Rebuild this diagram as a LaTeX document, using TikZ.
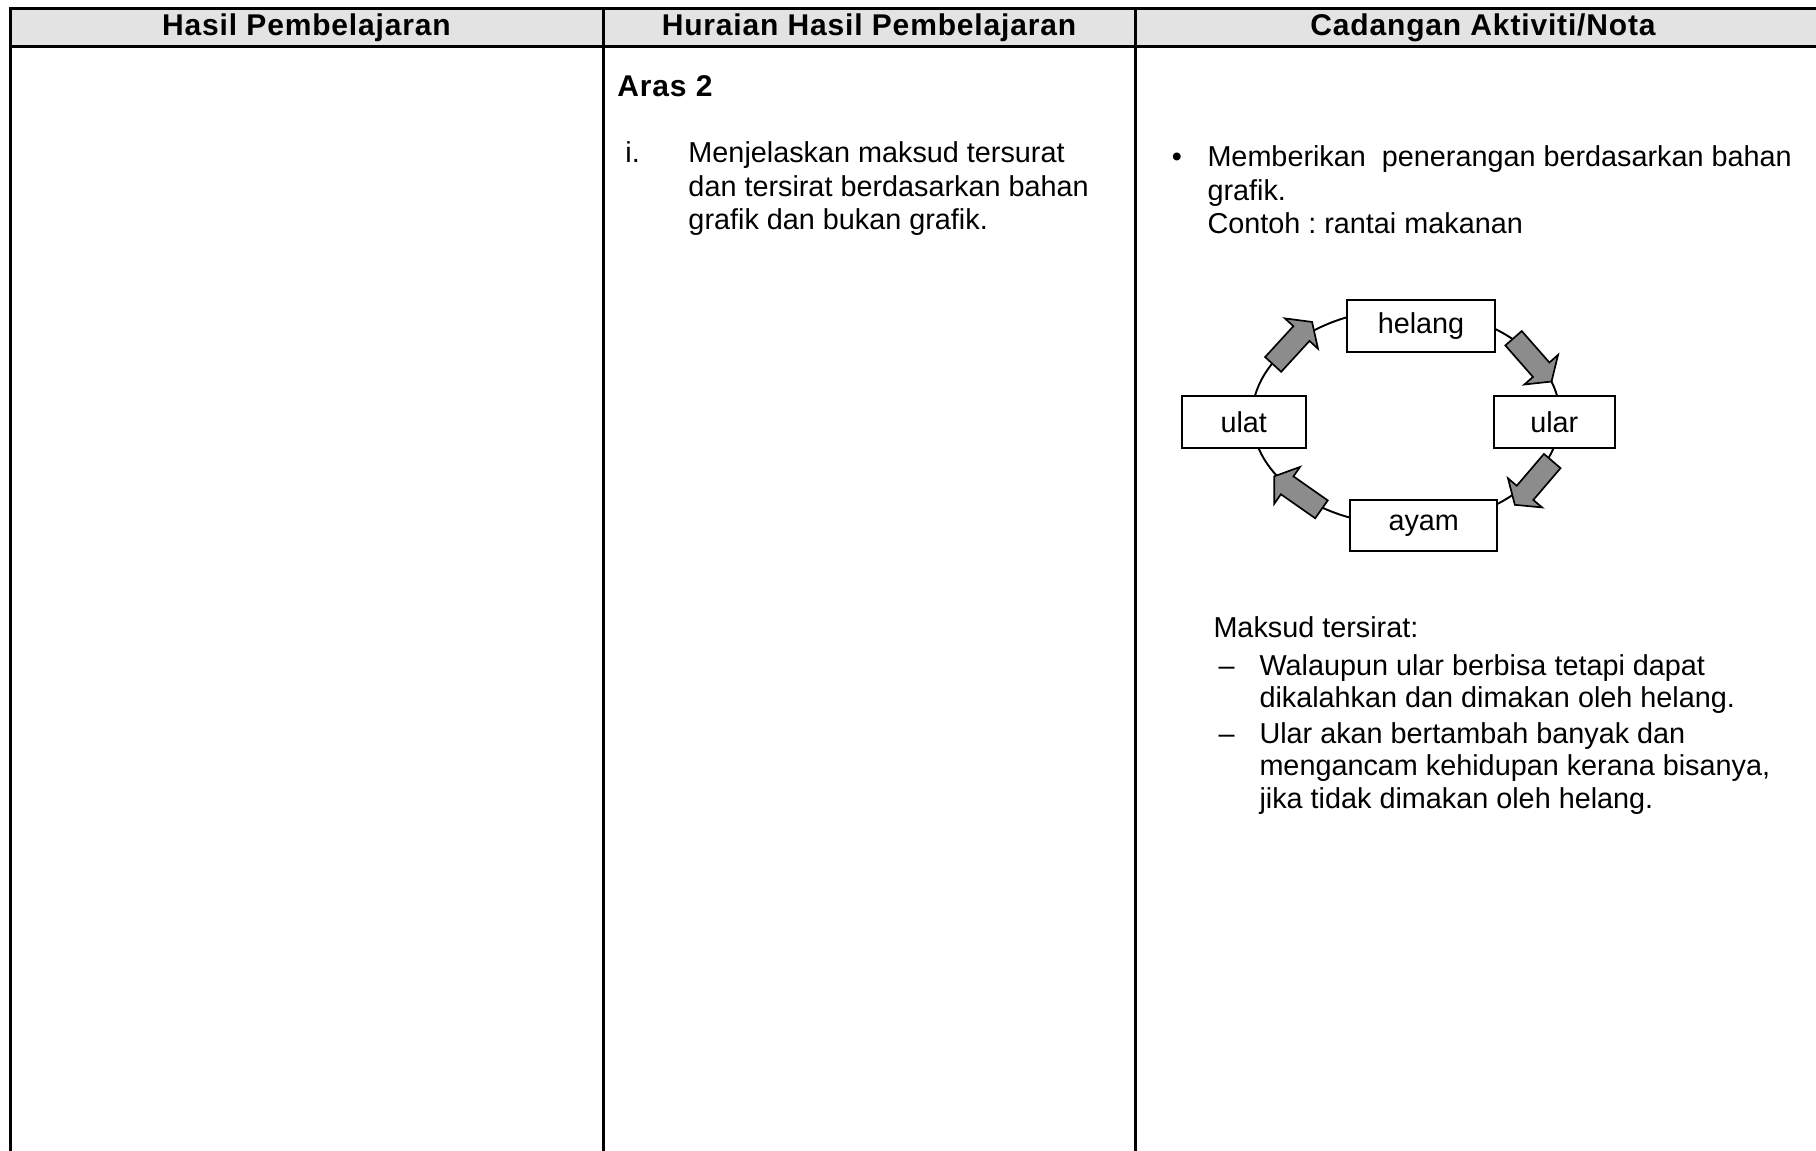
\documentclass[tikz,border=0pt]{standalone}
\usepackage{fontspec}
\setmainfont{Liberation Sans}
\newfontfamily\headfont[LetterSpace=2.8]{Liberation Sans}
\usetikzlibrary{shapes.arrows, positioning}
\definecolor{headgray}{gray}{0.89}
\definecolor{arrowgray}{gray}{0.55}
\frenchspacing

\begin{document}
\begin{tikzpicture}[
  x=0.4167pt, y=-0.4167pt,
  every node/.style={inner sep=0pt},
  head/.style={font=\headfont\bfseries\fontsize{12.5}{15}\selectfont},
  plain/.style={font=\fontsize{12}{14}\selectfont},
  txt/.style={font=\fontsize{12}{14}\selectfont, align=left, anchor=north west},
  listtxt/.style={font=\fontsize{12}{13.5}\selectfont, align=left, anchor=north west},
  food/.style={draw, line width=0.8pt, fill=white, minimum height=21.3pt, font=\fontsize{12}{14}\selectfont},
  flow/.style={single arrow, draw, line width=0.7pt, fill=arrowgray, minimum height=24pt,
    inner sep=4.2pt, single arrow head extend=4.8pt, single arrow tip angle=110},
  rule/.style={line width=1.25pt}
]
  \useasboundingbox (0,0) rectangle (1816,1150);
  \clip (0,0) rectangle (1816,1150);

  % table frame
  \fill[headgray] (10,8.5) rectangle (1830,46.5);
  \draw[rule] (1830,8.5) -- (10,8.5) -- (10,1160);
  \draw[rule] (10,46.5) -- (1830,46.5);
  \draw[rule] (603,8.5) -- (603,1160);
  \draw[rule] (1135.5,8.5) -- (1135.5,1160);

  \node[head] (hasil) at (306.5,27.5) {Hasil Pembelajaran};
  \node[head] (huraian) at (869,27.5) {Huraian Hasil Pembelajaran};
  \node[head] (cadangan) at (1483,27.5) {Cadangan Aktiviti/Nota};

  % middle column
  \node[head, anchor=base west] (aras) at (617,96) {Aras 2};
  \node[plain, anchor=base west] (num) at (625,162) {i.};
  \node[txt] (maksud) at (688,138.5) {\strut Menjelaskan maksud tersurat\\dan tersirat berdasarkan bahan\\grafik dan bukan grafik.};

  % right column
  \node[plain] (dot) at (1177,160) {\textbullet};
  \node[txt] (aktiviti) at (1207,142.5) {\strut Memberikan~ penerangan berdasarkan bahan\\grafik.\\Contoh : rantai makanan};

  % rantai makanan
  \draw[line width=0.8pt] (1406,417) ellipse [x radius=154, y radius=108];
  \node[food, minimum width=61.7pt] (helang) at (1421,326) {helang};
  \node[food, minimum width=51.7pt] (ulat) at (1243.7,422) {ulat};
  \node[food, minimum width=50.3pt] (ular) at (1554.3,422) {ular};
  \node[food, minimum width=61.25pt] (ayam) at (1423.7,525.7) {ayam};

  \node[flow, rotate=47.5] (a1) at (1290,346) {};
  \node[flow, rotate=-48.7] (a2) at (1530,357) {};
  \node[flow, rotate=-130.5] (a3) at (1536,480) {};
  \node[flow, rotate=145] (a4) at (1301,495) {};

  \node[plain, anchor=base west] (tersirat) at (1213,637) {Maksud tersirat:};
  \node[plain, anchor=base west] (d1) at (1218,675) {--};
  \node[listtxt] (w1) at (1259,652.3) {\strut Walaupun ular berbisa tetapi dapat\\dikalahkan dan dimakan oleh helang.};
  \node[plain, anchor=base west] (d2) at (1218,743) {--};
  \node[listtxt] (w2) at (1259,720.3) {\strut Ular akan bertambah banyak dan\\mengancam kehidupan kerana bisanya,\\jika tidak dimakan oleh helang.};
\end{tikzpicture}
\end{document}
